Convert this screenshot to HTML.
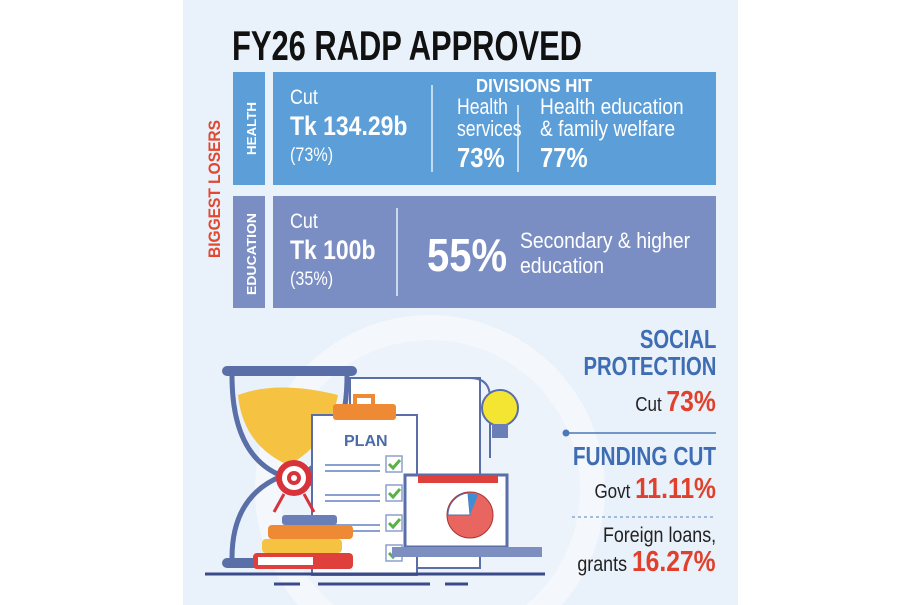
<!DOCTYPE html>
<html><head><meta charset="utf-8"><style>
html,body{margin:0;width:918px;height:605px;overflow:hidden;}
body{background:#fff;position:relative;font-family:"Liberation Sans",sans-serif;}
.a{position:absolute;white-space:nowrap;transform-origin:left top;}
.r{transform-origin:right top;text-align:right}
.w{color:#fff}
.b{font-weight:bold}
</style></head><body>
<div class="a" style="left:183px;top:0;width:555px;height:605px;background:#e9f1fa"></div>
<svg class="a" style="left:0;top:0" width="918" height="605">
<circle cx="430" cy="490" r="175" fill="#f4f8fd"/>
<circle cx="430" cy="490" r="150" fill="#edf3fb"/>
<rect x="350" y="378" width="130" height="190" fill="#fff" stroke="#5a6ea8" stroke-width="2"/>
<path d="M470 378 q20 0 20 20 v60" fill="none" stroke="#5a6ea8" stroke-width="2"/>
<rect x="222" y="366" width="135" height="10" rx="5" fill="#5a6ea8"/>
<rect x="222" y="558" width="135" height="10" rx="5" fill="#5a6ea8"/>
<path d="M232 376 q0 80 50 100 q-50 20 -50 82" fill="none" stroke="#5a6ea8" stroke-width="5"/>
<path d="M347 376 q0 80 -50 100 q50 20 50 82" fill="none" stroke="#5a6ea8" stroke-width="5"/>
<path d="M238 395 q40 -15 100 0 q-10 50 -50 70 q-45 -20 -50 -70z" fill="#f5c242"/>
<rect x="312" y="415" width="105" height="160" fill="#fff" stroke="#5a6ea8" stroke-width="2"/>
<rect x="333" y="404" width="63" height="16" rx="3" fill="#ef8a34"/>
<path d="M355 404 v-8 h18 v8" fill="none" stroke="#ef8a34" stroke-width="4"/>
<text x="344" y="446" font-family="Liberation Sans" font-weight="bold" font-size="16" fill="#4a6aa8">PLAN</text>
<g stroke="#8aa0d0" stroke-width="2">
<line x1="325" y1="465" x2="380" y2="465"/><line x1="325" y1="471" x2="380" y2="471"/>
<line x1="325" y1="495" x2="380" y2="495"/><line x1="325" y1="501" x2="380" y2="501"/>
<line x1="325" y1="525" x2="380" y2="525"/><line x1="325" y1="531" x2="380" y2="531"/>
</g>
<g fill="#fff" stroke="#8aa0d0" stroke-width="1.5">
<rect x="386" y="456" width="16" height="16"/><rect x="386" y="485" width="16" height="16"/>
<rect x="386" y="515" width="16" height="16"/><rect x="386" y="545" width="16" height="16"/>
</g>
<g fill="none" stroke="#5ab04a" stroke-width="3">
<path d="M389 464l4 4 7-8"/><path d="M389 493l4 4 7-8"/><path d="M389 523l4 4 7-8"/><path d="M389 553l4 4 7-8"/>
</g>
<circle cx="294" cy="478" r="18" fill="#d8333a"/><circle cx="294" cy="478" r="12" fill="#fff"/><circle cx="294" cy="478" r="7" fill="#d8333a"/><circle cx="294" cy="478" r="3" fill="#fff"/>
<path d="M284 494 l-10 18 M304 494 l10 18" stroke="#d8333a" stroke-width="3"/>
<rect x="282" y="515" width="55" height="10" rx="3" fill="#6a7fb8"/>
<rect x="268" y="525" width="85" height="14" rx="4" fill="#ef8a34"/>
<rect x="262" y="539" width="80" height="14" rx="4" fill="#f5c242"/>
<rect x="253" y="553" width="100" height="16" rx="4" fill="#e0403b"/>
<rect x="258" y="557" width="55" height="8" fill="#fff"/>
<rect x="405" y="475" width="102" height="72" fill="#fff" stroke="#5a6ea8" stroke-width="3"/>
<rect x="418" y="475" width="80" height="8" fill="#e0403b"/>
<rect x="420" y="485" width="75" height="60" fill="#fff"/>
<circle cx="470" cy="515" r="23" fill="#e86560" stroke="#a33" stroke-width="1"/>
<path d="M470 515 l-22 0 a22 22 0 0 1 20 -22z" fill="#fff" stroke="#5a6ea8" stroke-width="1"/>
<path d="M470 515 l-2 -22 a22 22 0 0 1 10 2z" fill="#3c8fd6"/>
<rect x="392" y="547" width="150" height="10" fill="#7d8fc0"/>
<circle cx="500" cy="408" r="18" fill="#f4e533" stroke="#5a6ea8" stroke-width="2"/>
<rect x="492" y="424" width="16" height="14" fill="#6a7fb8"/>
<line x1="205" y1="574" x2="545" y2="574" stroke="#3a4a8a" stroke-width="3"/>
<g stroke="#3a4a8a" stroke-width="3"><line x1="274" y1="584" x2="300" y2="584"/><line x1="318" y1="584" x2="430" y2="584"/><line x1="445" y1="584" x2="468" y2="584"/></g>
<rect x="233" y="72" width="32" height="113" fill="#5b9ed8"/>
<rect x="273" y="72" width="443" height="113" fill="#5b9ed8"/>
<rect x="233" y="196" width="32" height="112" fill="#7b8ec3"/>
<rect x="273" y="196" width="443" height="112" fill="#7b8ec3"/>
<g stroke="#e8f0fa" stroke-width="1.5"><line x1="432" y1="85" x2="432" y2="172"/><line x1="518" y1="105" x2="518" y2="172"/><line x1="397" y1="208" x2="397" y2="296"/></g>
<line x1="565" y1="433" x2="716" y2="433" stroke="#4a78b8" stroke-width="1.5"/>
<circle cx="566" cy="433" r="3.5" fill="#4a78b8"/>
<line x1="572" y1="517" x2="716" y2="517" stroke="#8aa8d0" stroke-width="1.5" stroke-dasharray="3 3"/>
<g font-family="Liberation Sans, sans-serif" font-weight="bold">
<text transform="translate(220,258) rotate(-90)" font-size="17" fill="#e2472f" textLength="138" lengthAdjust="spacingAndGlyphs">BIGGEST LOSERS</text>
<text transform="translate(256,155) rotate(-90)" font-size="13" fill="#fff" textLength="53" lengthAdjust="spacingAndGlyphs">HEALTH</text>
<text transform="translate(256,295) rotate(-90)" font-size="13" fill="#fff" textLength="82" lengthAdjust="spacingAndGlyphs">EDUCATION</text>
</g>
</svg>
<div class="a b" style="left:232px;top:22px;font-size:42px;color:#111;transform:scaleX(0.735)">FY26 RADP APPROVED</div>
<div class="a w" style="left:290px;top:86px;font-size:21px;transform:scaleX(.85)">Cut</div>
<div class="a w b" style="left:290px;top:111px;font-size:27px;transform:scaleX(.85)">Tk 134.29b</div>
<div class="a w" style="left:290px;top:145px;font-size:19px;transform:scaleX(.85)">(73%)</div>
<div class="a w b" style="left:476px;top:76px;font-size:18px;transform:scaleX(.93)">DIVISIONS HIT</div>
<div class="a w" style="left:457px;top:96px;font-size:22px;line-height:22px;transform:scaleX(.8)">Health<br>services</div>
<div class="a w b" style="left:457px;top:142px;font-size:28px;transform:scaleX(.85)">73%</div>
<div class="a w" style="left:540px;top:96px;font-size:22px;line-height:22px;transform:scaleX(.87)">Health education<br>&amp; family welfare</div>
<div class="a w b" style="left:540px;top:142px;font-size:28px;transform:scaleX(.85)">77%</div>
<div class="a w" style="left:290px;top:210px;font-size:21px;transform:scaleX(.85)">Cut</div>
<div class="a w b" style="left:290px;top:235px;font-size:27px;transform:scaleX(.85)">Tk 100b</div>
<div class="a w" style="left:290px;top:269px;font-size:19px;transform:scaleX(.85)">(35%)</div>
<div class="a w b" style="left:427px;top:228px;font-size:46px;transform:scaleX(.87)">55%</div>
<div class="a w" style="left:520px;top:228px;font-size:22px;line-height:25px;transform:scaleX(.88)">Secondary &amp; higher<br>education</div>
<div class="a b r" style="right:202px;top:326px;font-size:26px;line-height:27px;color:#3f6db3;transform:scaleX(.78)">SOCIAL<br>PROTECTION</div>
<div class="a r" style="right:202px;top:386px;font-size:20px;color:#222;transform:scaleX(.85)">Cut <span class="b" style="font-size:29px;color:#e0402c">73%</span></div>
<div class="a b r" style="right:202px;top:441px;font-size:26px;color:#3f6db3;transform:scaleX(.8)">FUNDING CUT</div>
<div class="a r" style="right:202px;top:473px;font-size:20px;color:#222;transform:scaleX(.85)">Govt <span class="b" style="font-size:29px;color:#e0402c">11.11%</span></div>
<div class="a r" style="right:202px;top:524px;font-size:21px;color:#222;transform:scaleX(.85)">Foreign loans,</div>
<div class="a r" style="right:202px;top:546px;font-size:21px;color:#222;transform:scaleX(.85)">grants <span class="b" style="font-size:29px;color:#e0402c">16.27%</span></div>
</body></html>
